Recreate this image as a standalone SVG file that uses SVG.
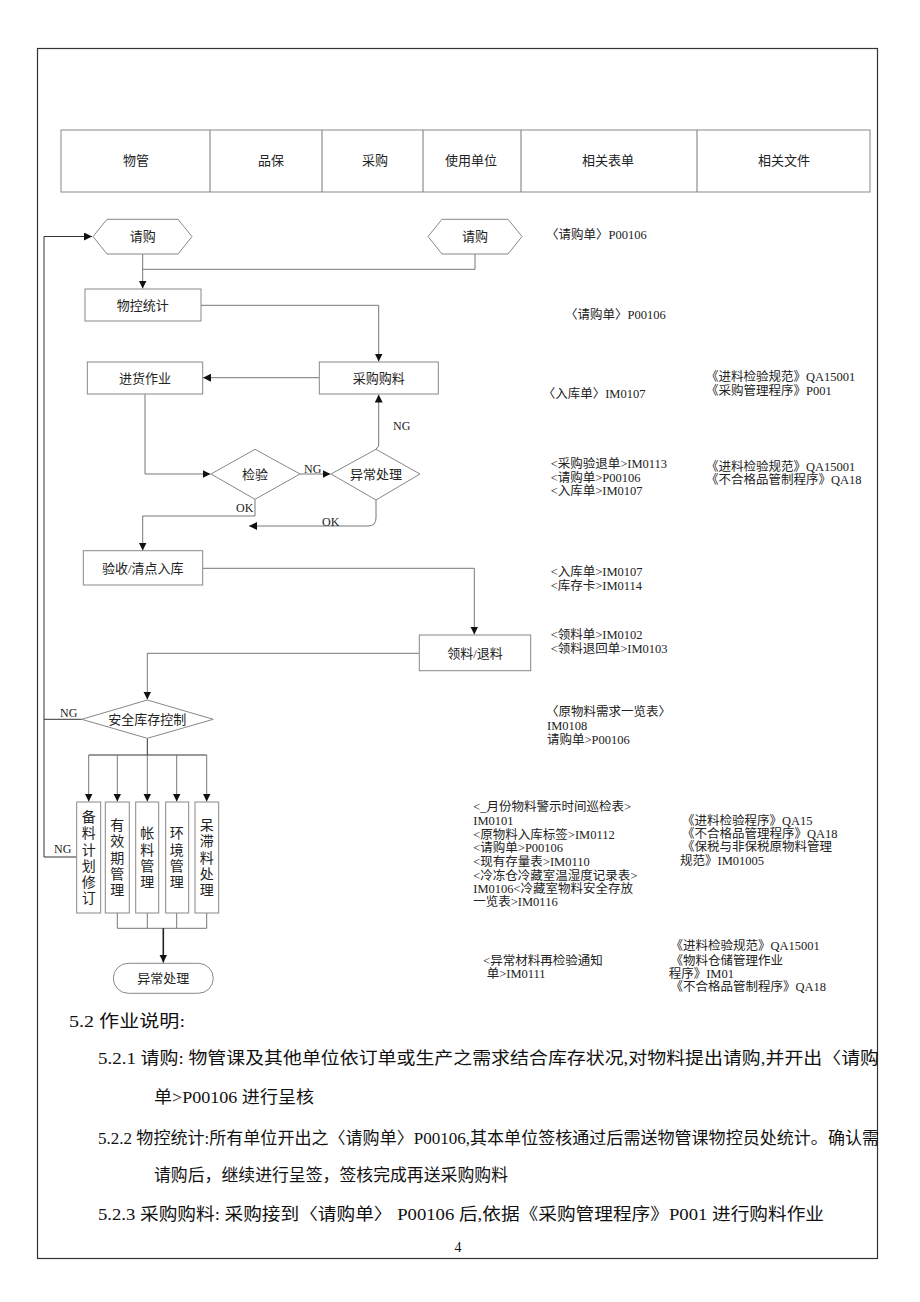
<svg xmlns="http://www.w3.org/2000/svg" width="920" height="1302" viewBox="0 0 920 1302">
<defs>
<marker id="ah" viewBox="0 0 10 10" refX="10" refY="5" markerWidth="8" markerHeight="8" markerUnits="userSpaceOnUse" orient="auto">
<path d="M0,0 L10,5 L0,10 z" fill="#111"/>
</marker>
<style>
.bd{fill:none;stroke:#333;stroke-width:1.2}
.hd{fill:#fff;stroke:#888;stroke-width:1}
.nd{fill:#fff;stroke:#888;stroke-width:1}
.cn{fill:none;stroke:#777;stroke-width:1}
.cd{fill:none;stroke:#333;stroke-width:1}
.ca{fill:none;stroke:#777;stroke-width:1;marker-end:url(#ah)}
.cda{fill:none;stroke:#222;stroke-width:1.6;marker-end:url(#ah)}
.t{font-family:"Liberation Serif","Noto Sans CJK SC",serif;font-size:13px;fill:#222;text-anchor:middle;dominant-baseline:central}
.lb{font-family:"Liberation Serif","Noto Sans CJK SC",serif;font-size:12px;fill:#222;dominant-baseline:central}
.doc{font-family:"Liberation Serif","Noto Sans CJK SC",serif;font-size:12.5px;fill:#222;dominant-baseline:central}
.vt{font-family:"Liberation Serif","Noto Sans CJK SC",serif;font-size:14px;fill:#222;text-anchor:middle;dominant-baseline:central}
.bt{font-family:"Liberation Serif","Noto Sans CJK SC",serif;font-size:16.5px;fill:#111;dominant-baseline:central}
</style>
</defs>
<rect x="0" y="0" width="920" height="1302" fill="#fff"/>
<rect class="bd" x="37.5" y="48.5" width="840" height="1210"/>

<g id="header">
<rect class="hd" x="61" y="130" width="809" height="62"/>
<path class="cn" d="M210,130V192M322,130V192M423,130V192M521,130V192M697,130V192"/>
<text class="t" x="136" y="160">物管</text>
<text class="t" x="271" y="160">品保</text>
<text class="t" x="375" y="160">采购</text>
<text class="t" x="471" y="160">使用单位</text>
<text class="t" x="608" y="160">相关表单</text>
<text class="t" x="784" y="160">相关文件</text>
</g>

<g id="connectors">
<path class="cd" d="M76.7,857H44V236.5H92" marker-end="url(#ah)"/>
<path class="cd" d="M81.7,719.3H44"/>
<path class="cn" d="M475,254V269.3H142.7"/>
<path class="ca" d="M142.7,254V288.5"/>
<path class="ca" d="M200.7,305.3H378.7V361.5"/>
<path class="ca" d="M319.3,377.7H203"/>
<path class="ca" d="M376,449L378.7,446V394.5"/>
<path class="ca" d="M145,394V474H210.5"/>
<path class="ca" d="M300,474H330.5"/>
<path class="ca" d="M255,499.3V516H142.7V550.5"/>
<path class="ca" d="M376,500V518Q376,526 368,526H249"/>
<path class="ca" d="M202.7,568.3H474.3V634.5"/>
<path class="ca" d="M419.3,653.3H147.3V699.5"/>
<path class="cd" d="M147.3,738.3V755M88.7,755H206.7"/>
<path class="ca" d="M88.7,755V801.5"/>
<path class="ca" d="M117.3,755V801.5"/>
<path class="ca" d="M147.3,755V801.5"/>
<path class="ca" d="M176.7,755V801.5"/>
<path class="ca" d="M206.7,755V801.5"/>
<path class="cn" d="M117.3,913V928.3M147.3,913V928.3M176.7,913V928.3M206.7,913V928.3M117.3,928.3H206.7"/>
<path class="cda" d="M163.3,928.3V962.5"/>
<text class="lb" x="304" y="469">NG</text>
<text class="lb" x="393" y="426">NG</text>
<text class="lb" x="236" y="508">OK</text>
<text class="lb" x="322" y="522">OK</text>
<text class="lb" x="60" y="713">NG</text>
<text class="lb" x="54" y="849">NG</text>
</g>

<g id="n-qinggou1">
<polygon class="nd" points="93,236.5 107,219.3 178,219.3 192,236.5 178,254 107,254"/>
<text class="t" x="142.7" y="236.5">请购</text>
</g>
<g id="n-qinggou2">
<polygon class="nd" points="428,236.5 442,219.3 508,219.3 522,236.5 508,254 442,254"/>
<text class="t" x="475" y="236.5">请购</text>
</g>
<g id="n-wukong">
<rect class="nd" x="85" y="289" width="116" height="32"/>
<text class="t" x="142.7" y="305.5">物控统计</text>
</g>
<g id="n-jinhuo">
<rect class="nd" x="87.3" y="362" width="115.4" height="32"/>
<text class="t" x="145" y="378">进货作业</text>
</g>
<g id="n-caigou">
<rect class="nd" x="319.3" y="362" width="119" height="32"/>
<text class="t" x="378.7" y="378">采购购料</text>
</g>
<g id="n-jianyan">
<polygon class="nd" points="211,474 255,449.3 300,474 255,499.3"/>
<text class="t" x="255" y="474">检验</text>
</g>
<g id="n-yichang1">
<polygon class="nd" points="331,474 376,449.3 420,474 376,500"/>
<text class="t" x="376" y="474">异常处理</text>
</g>
<g id="n-yanshou">
<rect class="nd" x="83.3" y="550.7" width="119.4" height="34.3"/>
<text class="t" x="142.7" y="568">验收/清点入库</text>
</g>
<g id="n-lingliao">
<rect class="nd" x="419.3" y="635" width="111.4" height="35.7"/>
<text class="t" x="475" y="653">领料/退料</text>
</g>
<g id="n-anquan">
<polygon class="nd" points="81.7,719.3 147.3,700 213.3,719.3 147.3,738.3"/>
<text class="t" x="147.3" y="719">安全库存控制</text>
</g>
<g id="n-beiliao">
<rect class="nd" x="76.7" y="802" width="24" height="111"/>
<text class="vt"><tspan x="88.7" y="817">备</tspan><tspan x="88.7" y="833">料</tspan><tspan x="88.7" y="849.5">计</tspan><tspan x="88.7" y="866">划</tspan><tspan x="88.7" y="882">修</tspan><tspan x="88.7" y="898">订</tspan></text>
</g>
<g id="n-youxiao">
<rect class="nd" x="105.3" y="802" width="24" height="111"/>
<text class="vt"><tspan x="117.3" y="825">有</tspan><tspan x="117.3" y="841">效</tspan><tspan x="117.3" y="857.5">期</tspan><tspan x="117.3" y="874">管</tspan><tspan x="117.3" y="890">理</tspan></text>
</g>
<g id="n-zhangliao">
<rect class="nd" x="135.7" y="802" width="23" height="111"/>
<text class="vt"><tspan x="147.3" y="833">帐</tspan><tspan x="147.3" y="849.5">料</tspan><tspan x="147.3" y="866">管</tspan><tspan x="147.3" y="882">理</tspan></text>
</g>
<g id="n-huanjing">
<rect class="nd" x="165.7" y="802" width="23" height="111"/>
<text class="vt"><tspan x="176.7" y="833">环</tspan><tspan x="176.7" y="849.5">境</tspan><tspan x="176.7" y="866">管</tspan><tspan x="176.7" y="882">理</tspan></text>
</g>
<g id="n-daizhi">
<rect class="nd" x="195" y="802" width="23.7" height="111"/>
<text class="vt"><tspan x="206.7" y="825">呆</tspan><tspan x="206.7" y="841">滞</tspan><tspan x="206.7" y="857.5">料</tspan><tspan x="206.7" y="874">处</tspan><tspan x="206.7" y="890">理</tspan></text>
</g>
<g id="n-yichang2">
<rect class="nd" x="113.3" y="963.3" width="100" height="30" rx="15" ry="15"/>
<text class="t" x="163.3" y="978">异常处理</text>
</g>

<g id="forms">
<text class="doc" x="546" y="234.5">〈请购单〉P00106</text>
<text class="doc" x="565" y="315">〈请购单〉P00106</text>
<text class="doc" x="542.7" y="393.5">〈入库单〉IM0107</text>
<text class="doc" x="550.7" y="464">&lt;采购验退单&gt;IM0113</text>
<text class="doc" x="550.7" y="477.5">&lt;请购单&gt;P00106</text>
<text class="doc" x="550.7" y="491">&lt;入库单&gt;IM0107</text>
<text class="doc" x="550.7" y="571.7">&lt;入库单&gt;IM0107</text>
<text class="doc" x="550.7" y="585.7">&lt;库存卡&gt;IM0114</text>
<text class="doc" x="550.7" y="635">&lt;领料单&gt;IM0102</text>
<text class="doc" x="550.7" y="649">&lt;领料退回单&gt;IM0103</text>
<text class="doc" x="546" y="712">〈原物料需求一览表〉</text>
<text class="doc" x="547" y="726">IM0108</text>
<text class="doc" x="547" y="740">请购单&gt;P00106</text>
<text class="doc" x="473.3" y="807.3">&lt;_月份物料警示时间巡检表&gt;</text>
<text class="doc" x="473.3" y="821">IM0101</text>
<text class="doc" x="473.3" y="834.5">&lt;原物料入库标签&gt;IM0112</text>
<text class="doc" x="473.3" y="848.3">&lt;请购单&gt;P00106</text>
<text class="doc" x="473.3" y="861.7">&lt;现有存量表&gt;IM0110</text>
<text class="doc" x="473.3" y="875.5">&lt;冷冻仓冷藏室温湿度记录表&gt;</text>
<text class="doc" x="473.3" y="889">IM0106&lt;冷藏室物料安全存放</text>
<text class="doc" x="473.3" y="902.3">一览表&gt;IM0116</text>
<text class="doc" x="483.3" y="960.7">&lt;异常材料再检验通知</text>
<text class="doc" x="486.7" y="973.5">单&gt;IM0111</text>
</g>

<g id="docs">
<text class="doc" x="706" y="377">《进料检验规范》QA15001</text>
<text class="doc" x="706" y="391">《采购管理程序》P001</text>
<text class="doc" x="706" y="466.7">《进料检验规范》QA15001</text>
<text class="doc" x="706" y="480">《不合格品管制程序》QA18</text>
<text class="doc" x="682" y="820.7">《进料检验程序》QA15</text>
<text class="doc" x="682" y="833.5">《不合格品管理程序》QA18</text>
<text class="doc" x="682" y="847.3">《保税与非保税原物料管理</text>
<text class="doc" x="680" y="861">规范》IM01005</text>
<text class="doc" x="670.5" y="945.7">《进料检验规范》QA15001</text>
<text class="doc" x="670.5" y="960.7">《物料仓储管理作业</text>
<text class="doc" x="668.7" y="973.5">程序》IM01</text>
<text class="doc" x="670.5" y="987.3">《不合格品管制程序》QA18</text>
</g>

<g id="body">
<text class="bt" x="69" y="1021" textLength="116" lengthAdjust="spacingAndGlyphs">5.2 作业说明:</text>
<text class="bt" x="98" y="1058" textLength="781" lengthAdjust="spacingAndGlyphs">5.2.1 请购: 物管课及其他单位依订单或生产之需求结合库存状况,对物料提出请购,并开出〈请购</text>
<text class="bt" x="154" y="1097" textLength="160" lengthAdjust="spacingAndGlyphs">单&gt;P00106 进行呈核</text>
<text class="bt" x="98" y="1138" textLength="781" lengthAdjust="spacingAndGlyphs">5.2.2 物控统计:所有单位开出之〈请购单〉P00106,其本单位签核通过后需送物管课物控员处统计。确认需</text>
<text class="bt" x="154" y="1175" textLength="354" lengthAdjust="spacingAndGlyphs">请购后，继续进行呈签，签核完成再送采购购料</text>
<text class="bt" x="98" y="1214" textLength="726" lengthAdjust="spacingAndGlyphs">5.2.3 采购购料: 采购接到〈请购单〉 P00106 后,依据《采购管理程序》P001 进行购料作业</text>
<text class="bt" x="458" y="1247" text-anchor="middle" style="font-size:14px">4</text>
</g>
</svg>
